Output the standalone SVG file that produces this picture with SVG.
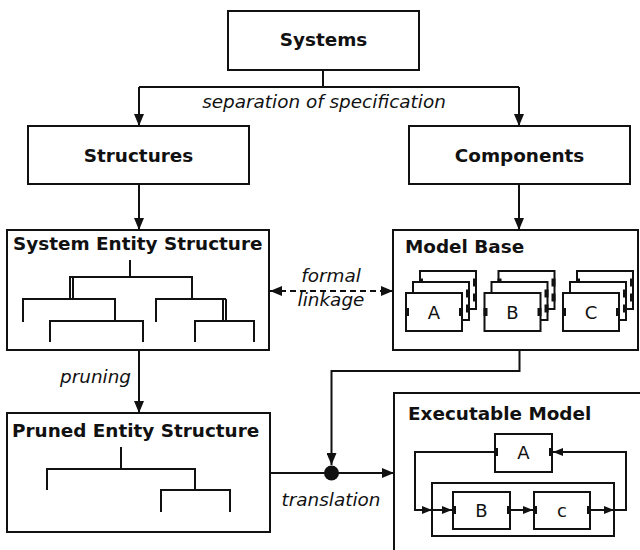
<svg xmlns="http://www.w3.org/2000/svg" xmlns:xlink="http://www.w3.org/1999/xlink" width="640" height="550" viewBox="0 0 640 550">
<defs>
<style>
.box{fill:#fff;stroke:#111;stroke-width:2}
.ln{fill:none;stroke:#111;stroke-width:2}
.port{fill:#111;stroke:none}
.title{font-family:"DejaVu Sans","Liberation Sans",sans-serif;font-weight:bold;font-size:18.4px;fill:#111}
.lbl{font-family:"DejaVu Sans","Liberation Sans",sans-serif;font-style:italic;font-size:18.4px;fill:#111}
.let{font-family:"DejaVu Sans","Liberation Sans",sans-serif;font-size:18px;fill:#111;text-anchor:middle}
.tree{fill:none;stroke:#111;stroke-width:2}
</style>
<marker id="arr" markerUnits="userSpaceOnUse" markerWidth="12" markerHeight="10" refX="12" refY="5" orient="auto-start-reverse">
<path d="M0,0 L12,5 L0,10 z" fill="#111"/>
</marker>
<marker id="sarr" markerUnits="userSpaceOnUse" markerWidth="10" markerHeight="8" refX="10" refY="4" orient="auto">
<path d="M0,0 L10,4 L0,8 z" fill="#111"/>
</marker>
<g id="stack">
<rect class="box" x="14" y="-22" width="56" height="38"/>
<rect class="port" x="13" y="-14.5" width="4" height="8"/>
<rect class="port" x="67" y="-14.5" width="4" height="8"/>
<rect class="port" x="67" y="0.5" width="4" height="8"/>
<rect class="box" x="7" y="-11" width="56" height="38"/>
<rect class="port" x="60" y="-3.5" width="4" height="8"/>
<rect class="port" x="60" y="11.5" width="4" height="8"/>
<rect class="box" x="0" y="0" width="56" height="38"/>
<rect class="port" x="-1" y="15" width="4" height="8"/>
<rect class="port" x="53" y="15" width="4" height="8"/>
</g>
</defs>
<rect width="640" height="550" fill="#fff"/>

<g id="connectors">
<path class="ln" d="M323,70 V87 M139,87 H519"/>
<path class="ln" d="M139,87 V126" marker-end="url(#arr)"/>
<path class="ln" d="M519,87 V126" marker-end="url(#arr)"/>
<path class="ln" d="M139,184 V230" marker-end="url(#arr)"/>
<path class="ln" d="M519,184 V230" marker-end="url(#arr)"/>
<path class="ln" d="M139,350 V413" marker-end="url(#arr)"/>
<path class="ln" d="M270,291 H393" stroke-dasharray="6,4" marker-start="url(#arr)" marker-end="url(#arr)"/>
<path class="ln" d="M519.5,350 V371 H331.5 V465" marker-end="url(#arr)"/>
<path class="ln" d="M270,473 H394" marker-end="url(#arr)"/>
<circle cx="331.5" cy="473" r="7.5" fill="#111"/>
<text class="lbl" x="324" y="108" text-anchor="middle">separation of specification</text>
<text class="lbl" x="331" y="282" text-anchor="middle">formal</text>
<text class="lbl" x="331" y="306" text-anchor="middle">linkage</text>
<text class="lbl" x="131" y="383" text-anchor="end">pruning</text>
<text class="lbl" x="331" y="506" text-anchor="middle">translation</text>
</g>

<g id="n-systems">
<rect class="box" x="228" y="11" width="191" height="59"/>
<text class="title" x="323.5" y="46" text-anchor="middle">Systems</text>
</g>

<g id="n-structures">
<rect class="box" x="28" y="126" width="221" height="58"/>
<text class="title" x="138.5" y="162" text-anchor="middle">Structures</text>
</g>

<g id="n-components">
<rect class="box" x="409" y="126" width="221" height="58"/>
<text class="title" x="519.5" y="162" text-anchor="middle">Components</text>
</g>

<g id="n-ses">
<rect class="box" x="7" y="230" width="262" height="120"/>
<text class="title" x="13" y="250">System Entity Structure</text>
<path class="tree" d="M130,260 V277 M69,277 H192 V299 M70,277 V299 M73,277 V299 M23,322 V299 H115 V321 M50,342 V321 H143 V342 M156,322 V299 H226 M223,299 V321 M226,299 V321 M195,342 V321 H254 V342"/>
</g>

<g id="n-modelbase">
<rect class="box" x="393" y="230" width="245" height="120"/>
<text class="title" x="405" y="253">Model Base</text>
<use xlink:href="#stack" x="406" y="293"/>
<use xlink:href="#stack" x="484.5" y="293"/>
<use xlink:href="#stack" x="563" y="293"/>
<text class="let" x="434" y="319">A</text>
<text class="let" x="512.5" y="319">B</text>
<text class="let" x="591" y="319">C</text>
</g>

<g id="n-pes">
<rect class="box" x="7" y="413" width="263" height="119"/>
<text class="title" x="12" y="437">Pruned Entity Structure</text>
<path class="tree" d="M121,447 V469 M47,490 V469 H195 V490 M161,512 V490 H230 V512"/>
</g>

<g id="n-exec">
<rect class="box" x="394" y="393" width="260" height="180"/>
<text class="title" x="408" y="420">Executable Model</text>
<rect class="box" x="432" y="483" width="182" height="53"/>
<rect class="box" x="495" y="434" width="57" height="38"/>
<rect class="port" x="494" y="448" width="4" height="8"/>
<rect class="port" x="549" y="448" width="4" height="8"/>
<text class="let" x="523.5" y="459">A</text>
<rect class="box" x="453" y="492" width="57" height="37"/>
<rect class="port" x="452" y="506" width="4" height="8"/>
<rect class="port" x="507" y="506" width="4" height="8"/>
<text class="let" x="481.5" y="517">B</text>
<rect class="box" x="534" y="492" width="56" height="37"/>
<rect class="port" x="533" y="506" width="4" height="8"/>
<rect class="port" x="587" y="506" width="4" height="8"/>
<text class="let" x="562" y="517">c</text>
<path class="ln" d="M495,452 H415 V510 H432" marker-end="url(#sarr)"/>
<path class="ln" d="M432,510 H452" marker-end="url(#sarr)"/>
<path class="ln" d="M510,510 H533" marker-end="url(#sarr)"/>
<path class="ln" d="M590,510 H614" marker-end="url(#sarr)"/>
<path class="ln" d="M614,510 H626 V452 H553" marker-end="url(#sarr)"/>
</g>
</svg>
